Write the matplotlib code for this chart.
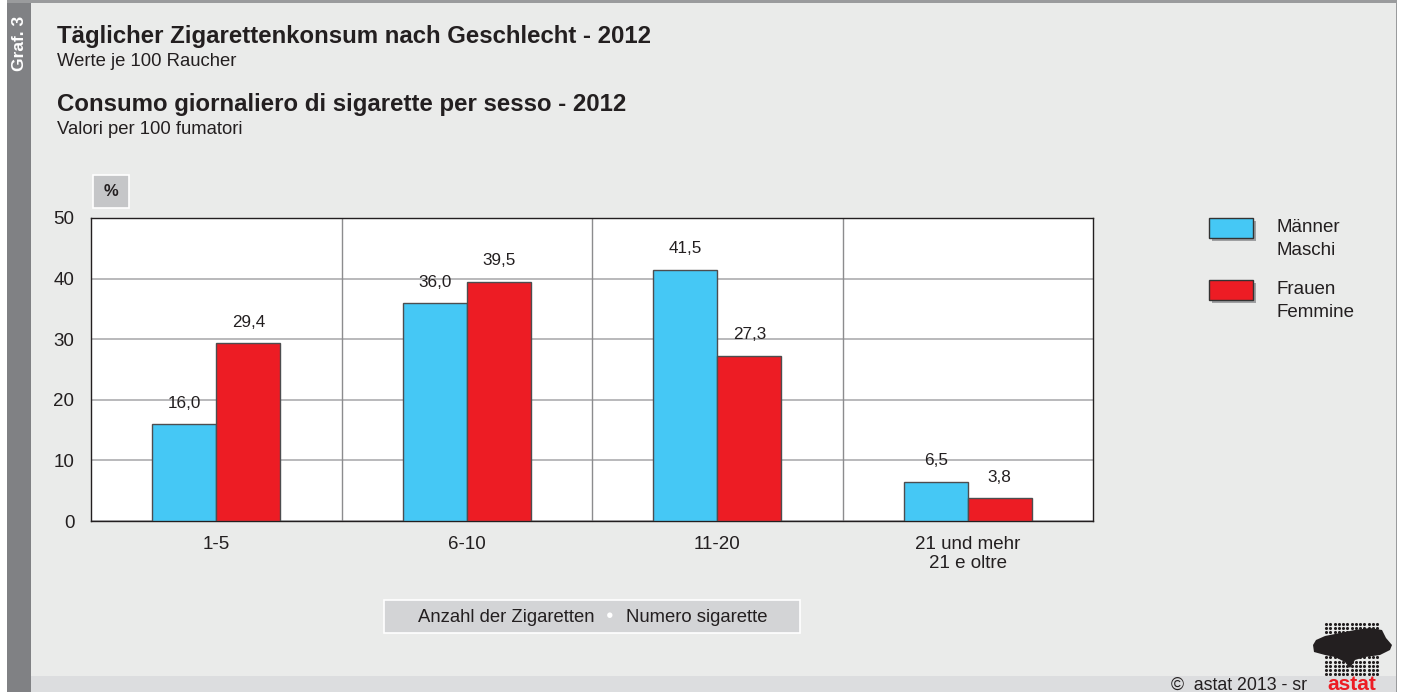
import matplotlib
matplotlib.use('Agg')
import matplotlib.pyplot as plt
from matplotlib.patches import Rectangle, Polygon
import numpy as np

plt.rcParams['font.family'] = ['Liberation Sans', 'DejaVu Sans']

categories = ['1-5', '6-10', '11-20', '21 und mehr\n21 e oltre']
maenner = [16.0, 36.0, 41.5, 6.5]
frauen = [29.4, 39.5, 27.3, 3.8]
series_names = ['Männer\nMaschi', 'Frauen\nFemmine']
yticks = [0, 10, 20, 30, 40, 50]

W, H = 1406, 692
BG = '#eaebea'
BLUE = '#45c8f5'
RED = '#ed1c24'
TXT = '#231f20'


def fx(x):
    return x / W


def fy(y):
    return 1 - y / H


def frect(x0, y0, x1, y1, **kw):
    return Rectangle((fx(x0), fy(y1)), fx(x1) - fx(x0), fy(y0) - fy(y1),
                     transform=fig.transFigure, **kw)


fig = plt.figure(figsize=(W / 100, H / 100), dpi=100, facecolor=BG)

# frame, left strip, footer band
fig.add_artist(frect(0, 0, 7, H, facecolor='white', edgecolor='none'))
fig.add_artist(frect(7, 3, 31, H, facecolor='#808184', edgecolor='none'))
fig.add_artist(frect(7, 0, 1406, 3, facecolor='#9a9b9d', edgecolor='none'))
fig.add_artist(frect(1397, 0, 1406, H, facecolor='white', edgecolor='none'))
fig.add_artist(frect(1396, 0, 1397, H, facecolor='#9a9b9d', edgecolor='none'))
fig.add_artist(frect(31, 676, 1396, H, facecolor='#dcdddf', edgecolor='none'))
fig.text(fx(19), fy(43), 'Graf. 3', rotation=90, color='white', fontweight='bold',
         fontsize=12.5, ha='center', va='center')

# titles
fig.text(fx(57), fy(37), 'Täglicher Zigarettenkonsum nach Geschlecht - 2012',
         fontsize=17.3, fontweight='bold', color=TXT, va='center')
fig.text(fx(57), fy(61), 'Werte je 100 Raucher', fontsize=13.3, color=TXT, va='center')
fig.text(fx(57), fy(104), 'Consumo giornaliero di sigarette per sesso - 2012',
         fontsize=17.3, fontweight='bold', color=TXT, va='center')
fig.text(fx(57), fy(129), 'Valori per 100 fumatori', fontsize=13.3, color=TXT, va='center')

# % box
fig.add_artist(frect(93, 175, 129, 208, facecolor='#c5c6c8', edgecolor='white', lw=1.2))
fig.text(fx(111), fy(192), '%', fontsize=12, fontweight='bold', color=TXT,
         ha='center', va='center')

# main axes
ax = fig.add_axes([fx(91), fy(521), fx(1093) - fx(91), fy(218) - fy(521)])
ax.set_facecolor('white')
x = np.arange(len(categories))
bw = 0.256
ax.bar(x - bw / 2, maenner, bw, color=BLUE, edgecolor='#4d4d4f', lw=1, zorder=3)
ax.bar(x + bw / 2, frauen, bw, color=RED, edgecolor='#4d4d4f', lw=1, zorder=3)
for i in range(len(categories)):
    ax.text(x[i] - bw / 2, maenner[i] + 2.2, f'{maenner[i]:.1f}'.replace('.', ','),
            ha='center', va='bottom', fontsize=12.3, color=TXT)
    ax.text(x[i] + bw / 2, frauen[i] + 2.2, f'{frauen[i]:.1f}'.replace('.', ','),
            ha='center', va='bottom', fontsize=12.3, color=TXT)
for b in x[:-1] + 0.5:
    ax.axvline(b, color='#8c8c8e', lw=1, zorder=1)
ax.set_xlim(-0.5, len(categories) - 0.5)
ax.set_ylim(0, 50)
ax.set_yticks(yticks)
ax.yaxis.grid(True, color='#b3b3b5', lw=1.3, zorder=1)
ax.set_axisbelow(True)
ax.set_xticks(x)
ax.set_xticklabels(categories, fontsize=13.5, color=TXT, linespacing=1.1)
ax.tick_params(axis='y', length=0, pad=12, labelsize=13.5, labelcolor=TXT)
ax.tick_params(axis='x', length=0, pad=11)
for s in ax.spines.values():
    s.set_color('#231f20')
    s.set_linewidth(1)

# legend
leg_y = [218, 280]
for (y0, col, name) in zip(leg_y, [BLUE, RED], series_names):
    fig.add_artist(frect(1212, y0 + 3, 1256, y0 + 23, facecolor='#9fa0a2', edgecolor='none'))
    fig.add_artist(frect(1209, y0, 1253, y0 + 20, facecolor=col, edgecolor='#333333', lw=1))
    fig.text(fx(1276), fy(y0 + 1), name, fontsize=13.5, color=TXT, va='top', linespacing=1.45)

# axis caption box
fig.add_artist(frect(384, 600, 800, 633, facecolor='#d3d4d6', edgecolor='white', lw=1.2))
fig.text(fx(595), fy(617), 'Anzahl der Zigaretten', fontsize=13.3,
         color=TXT, ha='right', va='center')
fig.text(fx(626), fy(617), 'Numero sigarette', fontsize=13.3,
         color=TXT, ha='left', va='center')
fig.text(fx(610), fy(616), '\u25CF', fontsize=9, color='white', ha='center', va='center')

# footer
fig.text(fx(1307), fy(685), '\u00A9  astat 2013 - sr', fontsize=12.8, color=TXT,
         ha='right', va='center')
fig.text(fx(1352), fy(684), 'astat', fontsize=15, color=RED, fontweight='bold',
         ha='center', va='center')

# logo
lax = fig.add_axes([fx(1308), fy(678), fx(1396) - fx(1308), fy(620) - fy(678)])
lax.set_xlim(1308, 1396)
lax.set_ylim(678, 620)
lax.axis('off')
blob = [(1316, 640), (1325, 636), (1340, 633), (1355, 630), (1370, 628), (1382, 630),
        (1386, 638), (1392, 645), (1390, 650), (1380, 655), (1365, 657), (1355, 660),
        (1350, 668), (1345, 662), (1335, 657), (1325, 655), (1314, 652), (1313, 645)]
lax.add_patch(Polygon(blob, closed=True, facecolor='#231f20', edgecolor='none'))
gx, gy = np.meshgrid(np.linspace(1326, 1377, 13), np.linspace(624, 674, 13))
lax.scatter(gx.ravel(), gy.ravel(), s=5, color='#231f20', lw=0)

fig.savefig('out.png', dpi=100, facecolor=BG)
